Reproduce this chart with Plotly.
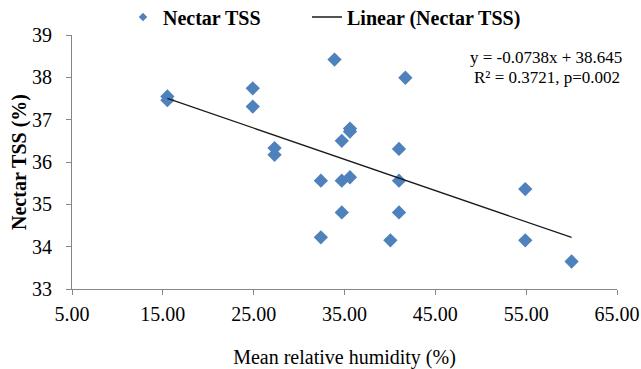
import plotly.graph_objects as go

# Data
humidity = [15.5, 15.5, 24.9, 24.9, 27.3, 27.3, 33.9, 41.7, 35.6, 35.6, 34.7, 32.4,
            34.7, 35.6, 41.0, 41.0, 34.7, 41.0, 32.4, 40.05, 54.9, 54.9, 60.0]
nectar_tss = [37.55, 37.46, 37.74, 37.31, 36.33, 36.17, 38.42, 37.99, 36.79, 36.72, 36.50, 35.56,
              35.56, 35.64, 36.31, 35.56, 34.81, 34.81, 34.22, 34.15, 35.36, 34.15, 33.65]
slope = -0.0738
intercept = 38.645
eq_text = "y = -0.0738x + 38.645"
r2_text = "R² = 0.3721, p=0.002"
x_ticks = [5, 15, 25, 35, 45, 55, 65]
y_ticks = [33, 34, 35, 36, 37, 38, 39]

trend_x = [min(humidity), max(humidity)]
trend_y = [slope * v + intercept for v in trend_x]

BLUE = "#4F81BD"
SERIF = "Liberation Serif, Times New Roman, serif"

fig = go.Figure()
fig.add_trace(go.Scatter(x=humidity, y=nectar_tss, mode="markers",
                         marker=dict(symbol="diamond", size=11, color=BLUE),
                         name="Nectar TSS", showlegend=False))
# legend-only entry with smaller marker
fig.add_trace(go.Scatter(x=[None], y=[None], mode="markers",
                         marker=dict(symbol="diamond", size=6.5, color=BLUE),
                         name="Nectar TSS", showlegend=True, legend="legend"))
fig.add_trace(go.Scatter(x=trend_x, y=trend_y, mode="lines",
                         line=dict(color="#1a1a1a", width=1.3),
                         name="Linear (Nectar TSS)", showlegend=True, legend="legend2"))

fig.add_annotation(xref="paper", yref="paper", x=(546 - 72) / 545, y=(289.3 - 58) / 254.3,
                   text=eq_text, showarrow=False, xanchor="center", yanchor="middle",
                   font=dict(family=SERIF, size=17, color="#000"))
fig.add_annotation(xref="paper", yref="paper", x=(547 - 72) / 545, y=(289.3 - 78) / 254.3,
                   text=r2_text, showarrow=False, xanchor="center", yanchor="middle",
                   font=dict(family=SERIF, size=17, color="#000"))

axis_common = dict(showgrid=False, zeroline=False, showline=True, linecolor="#868686",
                   linewidth=1, ticks="outside", ticklen=5, tickcolor="#868686",
                   tickfont=dict(family=SERIF, size=20, color="#000"))

legend_common = dict(orientation="h", xanchor="left",
                     y=1 + (35 - 17) / 254.3, yanchor="middle",
                     font=dict(family=SERIF, size=20, color="#000", weight="bold"),
                     bgcolor="rgba(0,0,0,0)", borderwidth=0)

fig.update_layout(
    width=641, height=369,
    margin=dict(l=72, r=24, t=35, b=80, autoexpand=False),
    font=dict(family=SERIF, color="#000"),
    plot_bgcolor="white", paper_bgcolor="white",
    xaxis=dict(range=[5, 65], tickvals=x_ticks, tickformat=".2f",
               ticklabelstandoff=2,
               title=dict(text="Mean relative humidity (%)", standoff=25,
                          font=dict(family=SERIF, size=20, color="#000")),
               **axis_common),
    yaxis=dict(range=[33, 39], tickvals=y_ticks, ticklabelstandoff=10,
               title=dict(text="<b>Nectar TSS (%)</b>", standoff=0,
                          font=dict(family=SERIF, size=20, color="#000")),
               **axis_common),
    legend=dict(x=(123 - 72) / 545, **legend_common),
    legend2=dict(x=(307 - 72) / 545, **legend_common),
)
fig.update_xaxes(automargin=False)
fig.update_yaxes(automargin=False)

fig.write_html("out.html")
